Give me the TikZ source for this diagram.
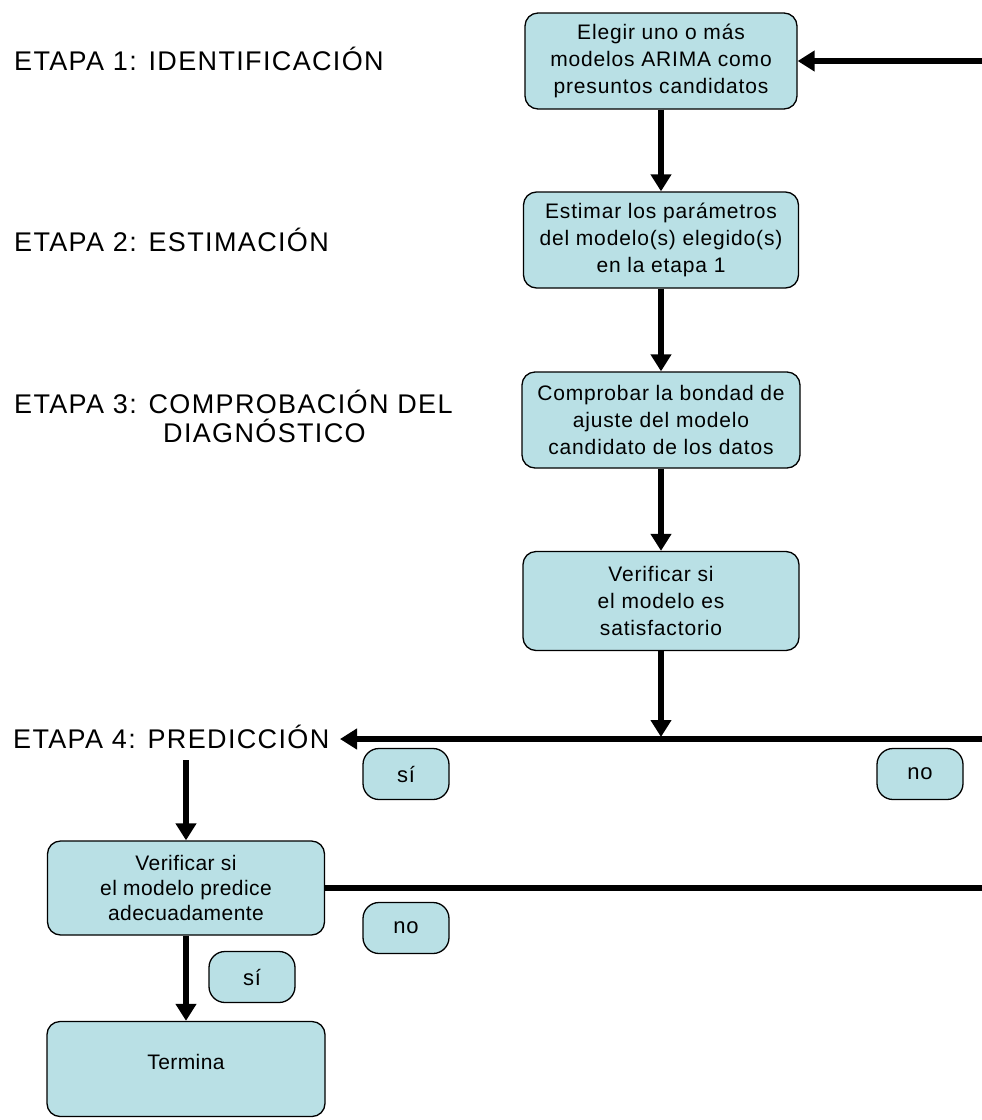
\documentclass[tikz,border=0pt]{standalone}
\usepackage{fontspec}
\setmainfont{Liberation Sans}
\newfontfamily\boxfont[LetterSpace=4]{Liberation Sans}
\newfontfamily\boxfontb[LetterSpace=2]{Liberation Sans}
\newfontfamily\stagefont[LetterSpace=5]{Liberation Sans}
\usetikzlibrary{arrows.meta}
\definecolor{boxfill}{RGB}{185,224,229}
\begin{document}
\begin{tikzpicture}[x=1pt,y=-1pt,
  proc/.style={draw=black, line width=1.3pt, fill=boxfill, rounded corners=13pt,
    align=center, inner sep=0pt,
    font=\boxfont\fontsize{21}{27}\selectfont},
  tag/.style={draw=black, line width=1.3pt, fill=boxfill, rounded corners=16pt,
    inner sep=0pt, minimum width=86pt, minimum height=51pt,
    font=\boxfont\fontsize{22}{24}\selectfont},
  stage/.style={anchor=base west, inner sep=0pt,
    font=\stagefont\fontsize{27}{29}\selectfont},
  conn/.style={line width=6pt, -{Triangle[width=20pt,length=17pt]}},
  bar/.style={line width=6pt}]
\useasboundingbox[fill=white] (0,0) rectangle (982,1120);

% stage labels
\node[stage] (e1) at (14,70) {ETAPA 1: IDENTIFICACIÓN};
\node[stage] (e2) at (14,251) {ETAPA 2: ESTIMACIÓN};
\node[stage] (e3) at (14,413) {ETAPA 3: COMPROBACIÓN DEL};
\node[stage] (e3b) at (163,442) {DIAGNÓSTICO};
\node[stage] (e4) at (13,748) {ETAPA 4: PREDICCIÓN};

% process boxes
\node[proc, minimum width=272pt, minimum height=96pt] (b1) at (661,61)
  {Elegir uno o más\\modelos ARIMA como\\presuntos candidatos};
\node[proc, minimum width=275pt, minimum height=96pt] (b2) at (661,240)
  {Estimar los parámetros\\del modelo(s) elegido(s)\\en la etapa 1};
\node[proc, minimum width=278pt, minimum height=96pt] (b3) at (661,420)
  {Comprobar la bondad de\\ajuste del modelo\\candidato de los datos};
\node[proc, minimum width=276pt, minimum height=99pt] (b4) at (661,601)
  {Verificar si\\el modelo es\\satisfactorio};
\node[proc, minimum width=277pt, minimum height=94pt,
  font=\boxfontb\fontsize{21}{25}\selectfont] (b5) at (186,888)
  {Verificar si\\el modelo predice\\adecuadamente};
\node[proc, minimum width=278pt, minimum height=95pt, text height=15pt, text depth=14pt,
  font=\boxfontb\fontsize{21}{25}\selectfont] (b6) at (186,1069)
  {Termina};

% yes/no tags
\node[tag] (si1) at (406,774) {sí};
\node[tag] (no1) at (920,774) {no};
\node[tag] (no2) at (406,928) {no};
\node[tag] (si2) at (252,977) {sí};

% helper coordinates
\coordinate (r0) at (982,61);
\coordinate (r1) at (982,739);
\coordinate (t4) at (340,739);
\coordinate (j4) at (661,737);
\coordinate (c4) at (186,760);
\coordinate (r2) at (982,888);

% connectors
\draw[conn] (r0) -- (b1.east);
\draw[conn] (b1.south) -- (b2.north);
\draw[conn] (b2.south) -- (b3.north);
\draw[conn] (b3.south) -- (b4.north);
\draw[conn] (b4.south) -- (j4);
\draw[conn] (r1) -- (t4);
\draw[conn] (c4) -- (b5.north);
\draw[bar] (b5.east) -- (r2);
\draw[conn] (b5.south) -- (b6.north);
\end{tikzpicture}
\end{document}
